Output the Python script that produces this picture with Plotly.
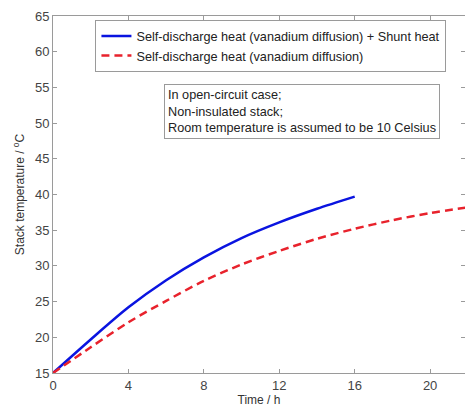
import plotly.graph_objects as go

time_blue = [0, 2, 4, 6, 8, 10, 12, 14, 16]
temp_blue = [15, 19.7, 24.2, 28.0, 31.2, 33.9, 36.1, 38.0, 39.7]
time_red = [0, 2, 4, 6, 8, 10, 12, 14, 16, 18, 20, 22]
temp_red = [15, 18.6, 22.1, 25.1, 27.9, 30.2, 32.1, 33.8, 35.2, 36.4, 37.4, 38.2]

name_blue = "Self-discharge heat (vanadium diffusion) + Shunt heat"
name_red = "Self-discharge heat (vanadium diffusion)"
note_lines = ["In open-circuit case;", "Non-insulated stack;",
              "Room temperature is assumed to be 10 Celsius"]
x_ticks = [0, 4, 8, 12, 16, 20]
y_ticks = [15, 20, 25, 30, 35, 40, 45, 50, 55, 60, 65]

FONT = "Arial, Liberation Sans, Helvetica, sans-serif"

fig = go.Figure()
fig.add_trace(go.Scatter(x=time_blue, y=temp_blue, mode="lines", name=name_blue,
                         line=dict(color="#0a14e0", width=2.5, shape="spline", smoothing=0.8)))
fig.add_trace(go.Scatter(x=time_red, y=temp_red, mode="lines", name=name_red,
                         line=dict(color="#e8222c", width=2.5, dash="8px,5px",
                                   shape="spline", smoothing=0.8)))

axis_common = dict(showline=True, linecolor="#9a9a9a", linewidth=1, mirror="ticks",
                   ticks="inside", ticklen=4, tickcolor="#9a9a9a", showgrid=False,
                   zeroline=False, automargin=False,
                   tickfont=dict(family=FONT, size=13, color="#444"))

fig.update_xaxes(range=[0, 21.85], tickvals=x_ticks,
                 title=dict(text="Time / h", standoff=4,
                            font=dict(family=FONT, size=12, color="#333")),
                 **axis_common)
fig.update_yaxes(range=[15, 65], tickvals=y_ticks,
                 title=dict(text="Stack temperature / <sup>o</sup>C", standoff=7,
                            font=dict(family=FONT, size=12, color="#333")),
                 **axis_common)

fig.add_annotation(xref="paper", yref="paper", x=0.27, y=0.81, xanchor="left", yanchor="top",
                   text="<br>".join(note_lines), align="left", showarrow=False,
                   font=dict(family=FONT, size=12.7, color="#222"),
                   bordercolor="#9a9a9a", borderwidth=1, borderpad=3, bgcolor="white")

fig.update_layout(
    width=465, height=407,
    margin=dict(l=53, r=0, t=16, b=34),
    plot_bgcolor="white", paper_bgcolor="white",
    legend=dict(x=0.103, y=0.988, xanchor="left", yanchor="top",
                bordercolor="#9a9a9a", borderwidth=1, bgcolor="white",
                font=dict(family=FONT, size=12.7, color="#222"),
                tracegroupgap=0, itemwidth=30),
    showlegend=True,
)

fig.write_html("out.html", config={"displayModeBar": False},
               post_script="document.body.style.margin='0';")
